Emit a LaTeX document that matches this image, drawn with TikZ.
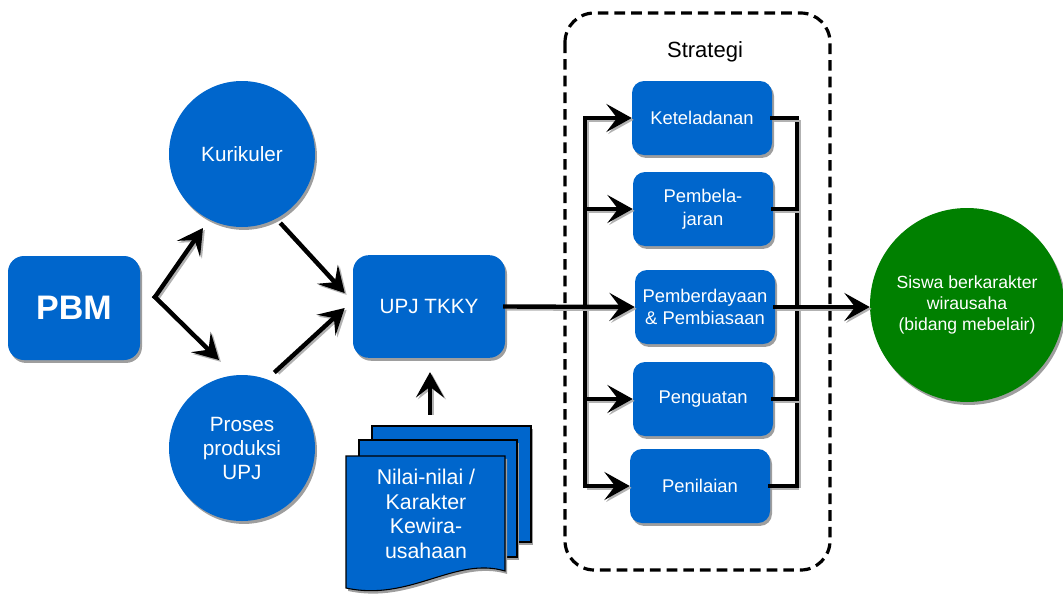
\documentclass[tikz,border=0pt]{standalone}
\usepackage{fontspec}
\setmainfont{Liberation Sans}
\usepackage{tikz}
\usetikzlibrary{positioning}
\usetikzlibrary{calc,arrows.meta,shadows}

\definecolor{boxblue}{RGB}{0,102,204}
\definecolor{goalgreen}{RGB}{0,128,0}

\tikzset{
	softshadow/.style={drop shadow={shadow xshift=1.5pt,shadow yshift=-2.2pt,fill=black!38,opacity=1}},
	bluebox/.style={rectangle, rounded corners=10pt, fill=boxblue, text=white, align=center, inner sep=0pt, softshadow},
	bluecirc/.style={circle, fill=boxblue, text=white, align=center, inner sep=0pt, minimum size=109.5pt, softshadow, font=\fontsize{15.5}{18}\selectfont},
	stratbox/.style={bluebox, minimum width=105pt, minimum height=55.5pt, rounded corners=9pt, font=\fontsize{13.8}{17}\selectfont},
	sheet/.style={draw=black, line width=0.8pt, fill=boxblue, softshadow},
	link/.style={line width=3.3pt, draw=black, line cap=rect, preaction={draw=black!30, line width=3.3pt, transform canvas={xshift=1.4pt,yshift=-1.4pt}}},
	arr/.style={link, -{Stealth[length=19pt,width=21pt,inset=8pt]}},
}

\begin{document}
\begin{tikzpicture}[x=0.75pt,y=-0.75pt]
	\useasboundingbox (0,0) rectangle (1063,596);
	
	% Left part: the start block, the two circles and the unit
	\node[bluebox, minimum width=99pt, minimum height=78pt, rounded corners=12pt, font=\fontsize{25.5}{30}\selectfont\bfseries] (pbm) at (74,308) {PBM};
	\node[bluecirc] (kur) at (242,154) {Kurikuler};
	\node[bluecirc] (prc) at (242,448) {Proses\\produksi\\UPJ};
	\node[bluebox, minimum width=114pt, minimum height=77pt, rounded corners=12pt, font=\fontsize{15.5}{18}\selectfont] (upj) at (429,306.5) {UPJ TKKY};
	
	% Fork in front of PBM and the arrow ends
	% USE \coordinate FOR THE FREE ENDS, NO LABEL
	\coordinate (fork) at (155,297);
	\coordinate (kurIn) at (203,228);
	\coordinate (prcIn) at (219,360);
	\coordinate (upjIn1) at ($(upj.west) + (-8,-13.5)$);
	\coordinate (upjIn2) at ($(upj.west) + (-8,1.5)$);
	
	\draw[arr] (fork) -- (kurIn);
	\draw[arr] (fork) -- (prcIn);
	\draw[arr, shorten <=6pt] (kur.-62) -- (upjIn1);
	\draw[arr, shorten <=9pt] (prc.70) -- (upjIn2);
	
	%%%%%%%%%%%%%%%%%%%%%%%%%%%%%%%%%%%%%%%%%%%%%%%%%%%%%%%%%%%%%%
	% Stack of three sheets, back to front
	\path[sheet] (372,426) rectangle (531,542);
	\path[sheet] (359,440) rectangle (517,557);
	\path[sheet] (346,456) -- (505,456) -- (505,571)
		.. controls (455,556) and (410,602) .. (346,588) -- cycle;
	\node[text=white, align=center, font=\fontsize{16}{18.4}\selectfont] (nilai) at (426,514) {Nilai-nilai /\\Karakter\\Kewira-\\usahaan};
	
	\coordinate (docTop) at (430,413);
	\draw[arr, shorten >=10.5pt] (docTop) -- (docTop |- upj.south);
	
	%%%%%%%%%%%%%%%%%%%%%%%%%%%%%%%%%%%%%%%%%%%%%%%%%%%%%%%%%%%%%%
	% Strategy group
	\draw[line width=2.4pt, dash pattern=on 8pt off 4.5pt, rounded corners=22pt] (565,13) rectangle (830,570);
	\node[font=\fontsize{16.5}{20}\selectfont] (strTitle) at (705,52) {Strategi};
	
	\node[stratbox] (ket) at (702,118) {Keteladanan};
	\node[stratbox] (pbl) at (703,209) {Pembela-\\jaran};
	\node[stratbox] (pbd) at (705,307) {Pemberdayaan\\\& Pembiasaan};
	\node[stratbox] (pgt) at (703,399) {Penguatan};
	\node[stratbox] (pnl) at (700,486) {Penilaian};
	
	% Left and right bus lines
	\coordinate (lbus) at (585,0);
	\coordinate (rbus) at (797,0);
	
	\draw[link] (lbus |- ket.west) -- (lbus |- pnl.west);
	\draw[link] (rbus |- ket.east) -- (rbus |- pnl.east);
	\foreach \s in {ket,pbl,pgt,pnl}{
		\draw[arr] (lbus |- \s.west) -- (\s.west);
		\draw[link] (\s.east) -- (rbus |- \s.east);
	}
	
	%%%%%%%%%%%%%%%%%%%%%%%%%%%%%%%%%%%%%%%%%%%%%%%%%%%%%%%%%%%%%%
	% Goal
	\node[circle, fill=goalgreen, text=white, align=center, inner sep=0pt, minimum size=145.5pt, softshadow, font=\fontsize{13.2}{15.8}\selectfont] (sis) at (967,305) {Siswa berkarakter\\wirausaha\\(bidang mebelair)};
	
	\draw[arr] (upj.east) -- (pbd.west);
	\draw[arr] (pbd.east) -- (pbd.east -| sis.west);
	
\end{tikzpicture}
\end{document}
